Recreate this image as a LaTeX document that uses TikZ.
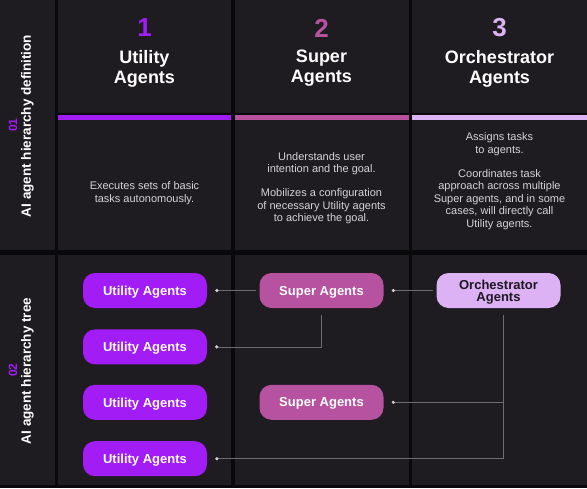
\documentclass[tikz,border=0pt]{standalone}
\usepackage{fontspec}
\setmainfont{Liberation Sans}
\usetikzlibrary{arrows.meta,positioning}

\definecolor{cellbg}{HTML}{1E1B21}
\definecolor{gridblack}{HTML}{09080A}
\definecolor{utilpurple}{HTML}{A21CF6}
\definecolor{superpink}{HTML}{B6529F}
\definecolor{orchlilac}{HTML}{DDB2F4}
\definecolor{orchtext}{HTML}{1C1722}
\definecolor{desctext}{HTML}{D6D4D8}
\definecolor{linkgray}{HTML}{6E6C70}
\definecolor{dotgray}{HTML}{D0D0D0}

\begin{document}
\begin{tikzpicture}[x=1pt, y=-1pt,
  agent/.style={rounded corners=12pt, minimum width=124pt, minimum height=35pt, inner sep=0pt, text depth=0pt, align=center, font=\bfseries\fontsize{13}{12}\selectfont, text=white},
  util/.style={agent, fill=utilpurple},
  super/.style={agent, fill=superpink},
  orch/.style={agent, fill=orchlilac, text=orchtext},
  num/.style={font=\bfseries\fontsize{26}{26}\selectfont},
  title/.style={align=center, text=white, font=\bfseries\fontsize{18}{20}\selectfont},
  desc/.style={align=center, text=desctext, font=\fontsize{11}{12.4}\selectfont},
  rowlabel/.style={rotate=90, text=white, font=\bfseries\fontsize{13.5}{14}\selectfont},
  rownum/.style={rotate=90, text=utilpurple, font=\bfseries\fontsize{12}{12}\selectfont},
  link/.style={draw=linkgray, line width=0.7pt, -{Circle[length=3.2pt, color=dotgray]}, shorten <=3pt, shorten >=8pt}
]

% grid of cells
\fill[gridblack] (0,0) rectangle (587,488);
\useasboundingbox (0,0) rectangle (587,488);
\fill[cellbg] (0,0) rectangle (55,250);
\fill[cellbg] (0,254.5) rectangle (55,485);
\foreach \xa/\xb/\barcol in {58/231/utilpurple, 235/408.5/superpink, 412/587/orchlilac}{
  \fill[cellbg] (\xa,0) rectangle (\xb,112.5);
  \fill[\barcol] (\xa,115) rectangle (\xb,120);
  \fill[cellbg] (\xa,120) rectangle (\xb,250);
  \fill[cellbg] (\xa,254.5) rectangle (\xb,485);
}

% row labels
\node[rownum] (r1num) at (13,125) {01};
\node[rowlabel] (r1lab) at (27.5,126) {AI agent hierarchy definition};
\node[rownum] (r2num) at (13,370) {02};
\node[rowlabel] (r2lab) at (27.5,371) {AI agent hierarchy tree};

% headers
\node[num, text=utilpurple] (n1) at (144.5,28) {1};
\node[num, text=superpink] (n2) at (321.5,28) {2};
\node[num, text=orchlilac] (n3) at (499.5,28) {3};
\node[title] (t1) at (144.5,68.5) {Utility\\Agents};
\node[title] (t2) at (321.5,68.5) {Super\\Agents};
\node[title] (t3) at (499.5,68.5) {Orchestrator\\Agents};

% definitions
\node[desc] (d1) at (144.5,193) {Executes sets of basic\\tasks autonomously.};
\node[desc] (d2) at (321.5,188) {Understands user\\intention and the goal.\\[12pt]Mobilizes a configuration\\of necessary Utility agents\\to achieve the goal.};
\node[desc] (d3) at (499.5,181) {Assigns tasks\\to agents.\\[12pt]Coordinates task\\approach across multiple\\Super agents, and in some\\cases, will directly call\\Utility agents.};

% hierarchy tree
\node[util] (u1) at (145,290.5) {Utility Agents};
\node[util, below=21pt of u1] (u2) {Utility Agents};
\node[util, below=20pt of u2] (u3) {Utility Agents};
\node[util, below=21pt of u3] (u4) {Utility Agents};
\node[super] (s1) at (321.5,290.5) {Super Agents};
\node[super] (s2) at (s1 |- u3) {Super Agents};
\node[orch] (o) at (498.5,290.5) {Orchestrator\\Agents};

\draw[link] (s1) -- (u1);
\draw[link, shorten <=7pt] (s1.south) |- (u2.east);
\draw[link] (o) -- (s1);
\coordinate (trunk) at ([xshift=4.5pt]o.south);
\draw[link, shorten <=7pt] (trunk) |- (u4.east);
\coordinate (fork) at (trunk |- s2.east);
\draw[link, shorten <=0pt] (fork) -- (s2.east);

\end{tikzpicture}
\end{document}
